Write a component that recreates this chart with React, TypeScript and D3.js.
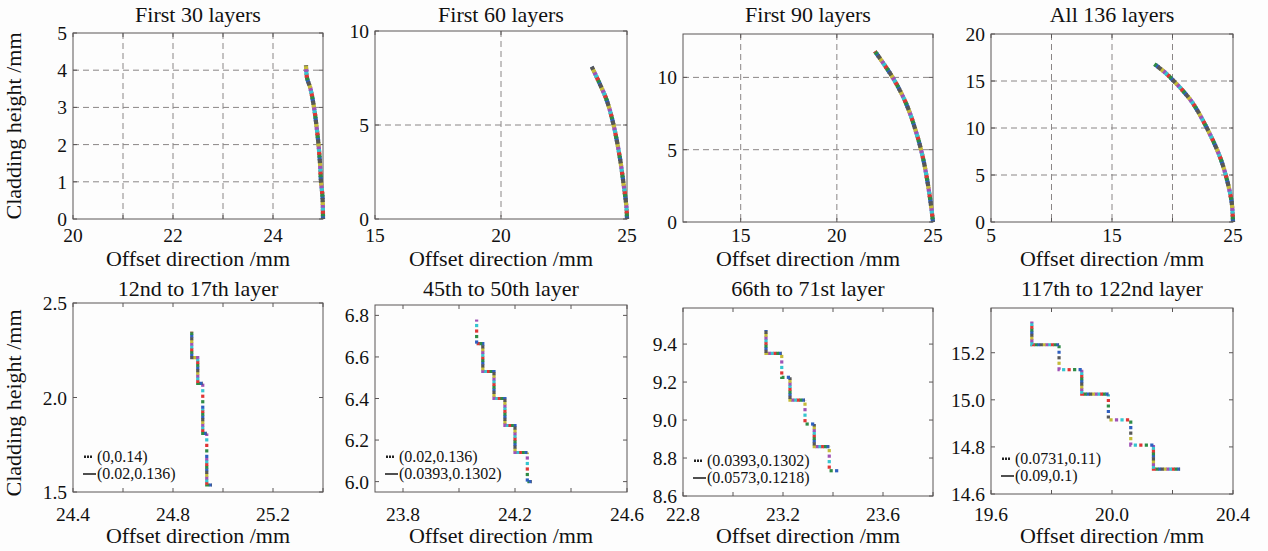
import React from "react";
import * as d3 from "d3";

// ---- colours of the point cycle (b, g, r, c, m, y, k) ----
const dotColors = ["#2f5fc0", "#2e8b45", "#e03535", "#35c5cf", "#a052b5", "#c4bb38", "#575757"];

// ---- top row: cumulative profiles (offset mm, height mm) ----
const curve30 = [[25.0, 0], [24.99, 0.6], [24.96, 1.0], [24.94, 1.5], [24.91, 2.0], [24.87, 2.5], [24.82, 3.0], [24.75, 3.5], [24.68, 3.8], [24.66, 4.13]];
const curve60 = [[25.0, 0], [24.98, 0.6], [24.88, 1.7], [24.7, 3.4], [24.45, 5.1], [24.2, 6.3], [23.9, 7.25], [23.6, 8.1]];
const curve90 = [[25.0, 0], [24.93, 0.8], [24.76, 2.4], [24.5, 4.3], [24.15, 6.1], [23.6, 8.2], [22.9, 10.0], [21.98, 11.8]];
const curve136 = [[25.0, 0], [24.9, 2.0], [24.5, 4.5], [23.9, 7.0], [22.8, 10.1], [21.7, 12.6], [20.9, 13.9], [20.1, 15.0], [19.3, 16.0], [18.5, 16.8]];

// ---- bottom row: layer staircases, "dot" = dotted series, "solid" = solid series ----
const steps12to17 = [
  { style: "solid", pts: [[24.956, 1.537], [24.935, 1.537], [24.935, 1.68]] },
  { style: "dot", pts: [[24.935, 1.68], [24.935, 1.81]] },
  { style: "solid", pts: [[24.935, 1.81], [24.919, 1.81], [24.919, 1.94]] },
  { style: "dot", pts: [[24.919, 1.94], [24.919, 2.075]] },
  { style: "solid", pts: [[24.919, 2.075], [24.899, 2.075], [24.899, 2.211], [24.875, 2.211], [24.875, 2.348]] },
];
const steps45to50 = [
  { style: "solid", pts: [[24.26, 6.0], [24.244, 6.0]] },
  { style: "dot", pts: [[24.244, 6.0], [24.244, 6.14]] },
  { style: "solid", pts: [[24.244, 6.14], [24.2, 6.14], [24.2, 6.27], [24.164, 6.27], [24.164, 6.4], [24.125, 6.4], [24.125, 6.53], [24.085, 6.53], [24.085, 6.664], [24.063, 6.664]] },
  { style: "dot", pts: [[24.063, 6.664], [24.063, 6.78]] },
];
const steps66to71 = [
  { style: "dot", pts: [[23.421, 8.733], [23.385, 8.733], [23.385, 8.86]] },
  { style: "solid", pts: [[23.385, 8.86], [23.325, 8.86], [23.325, 8.979]] },
  { style: "dot", pts: [[23.325, 8.979], [23.288, 8.979], [23.288, 9.105]] },
  { style: "solid", pts: [[23.288, 9.105], [23.228, 9.105], [23.228, 9.225]] },
  { style: "dot", pts: [[23.228, 9.225], [23.195, 9.225], [23.195, 9.351]] },
  { style: "solid", pts: [[23.195, 9.351], [23.132, 9.351], [23.132, 9.474]] },
];
const steps117to122 = [
  { style: "solid", pts: [[20.225, 14.706], [20.137, 14.706], [20.137, 14.808]] },
  { style: "dot", pts: [[20.137, 14.808], [20.062, 14.808], [20.062, 14.915], [19.988, 14.915], [19.988, 15.024]] },
  { style: "solid", pts: [[19.988, 15.024], [19.9, 15.024], [19.9, 15.128]] },
  { style: "dot", pts: [[19.9, 15.128], [19.825, 15.128], [19.825, 15.234]] },
  { style: "solid", pts: [[19.825, 15.234], [19.735, 15.234], [19.735, 15.333]] },
];

// ---- titles, legends, ticks ----
const topTitles = ["First 30 layers", "First 60 layers", "First 90 layers", "All 136 layers"];
const bottomTitles = ["12nd to 17th layer", "45th to 50th layer", "66th to 71st layer", "117th to 122nd layer"];
const legendDot = ["(0,0.14)", "(0.02,0.136)", "(0.0393,0.1302)", "(0.0731,0.11)"];
const legendSolid = ["(0.02,0.136)", "(0.0393,0.1302)", "(0.0573,0.1218)", "(0.09,0.1)"];

const topXDomains = [[20, 25], [15, 25], [12, 25], [5, 25]];
const topYDomains = [[0, 5], [0, 10], [0, 13], [0, 20]];
const topXTicks = [[20, 21, 22, 23, 24, 25], [15, 20, 25], [15, 20, 25], [5, 10, 15, 20, 25]];
const topXLabels = [[20, 22, 24], [15, 20, 25], [15, 20, 25], [5, 15, 25]];
const topYTicks = [[0, 1, 2, 3, 4, 5], [0, 5, 10], [0, 5, 10], [0, 5, 10, 15, 20]];

const botXDomains = [[24.4, 25.4], [23.7, 24.6], [22.8, 23.8], [19.6, 20.4]];
const botYDomains = [[1.5, 2.5], [5.95, 6.85], [8.6, 9.59], [14.6, 15.39]];
const botXTicks = [[24.4, 24.6, 24.8, 25.0, 25.2, 25.4], [23.8, 24.0, 24.2, 24.4, 24.6], [22.8, 23.0, 23.2, 23.4, 23.6, 23.8], [19.6, 19.8, 20.0, 20.2, 20.4]];
const botXLabels = [[24.4, 24.8, 25.2], [23.8, 24.2, 24.6], [22.8, 23.2, 23.6], [19.6, 20.0, 20.4]];
const botYTicks = [[1.5, 2.0, 2.5], [6.0, 6.2, 6.4, 6.6, 6.8], [8.6, 8.8, 9.0, 9.2, 9.4], [14.6, 14.8, 15.0, 15.2]];

// ---- layout (plot boxes) ----
const topBoxes = [
  { l: 73, r: 323, t: 33, b: 219 },
  { l: 375, r: 627, t: 31, b: 219 },
  { l: 683, r: 933, t: 34, b: 222 },
  { l: 991, r: 1233, t: 34, b: 222 },
];
const botBoxes = [
  { l: 73, r: 323, t: 303, b: 492 },
  { l: 375, r: 627, t: 305, b: 492 },
  { l: 683, r: 933, t: 308, b: 496 },
  { l: 991, r: 1233, t: 308, b: 494 },
];

const FONT = "Liberation Serif, DejaVu Serif, serif";
const AXIS = "#5a5656";
const GRID = "#8a8686";
const TITLE_SIZE = 22;
const TICK_SIZE = 19.5;

function DottedPath({ d, spacing, size }: { d: string; spacing: number; size: number }) {
  const period = spacing * dotColors.length;
  return (
    <g>
      {dotColors.map((c, i) => (
        <path
          key={i}
          d={d}
          fill="none"
          stroke={c}
          strokeWidth={size}
          strokeDasharray={`${size} ${period - size}`}
          strokeDashoffset={(period - i * spacing) % period}
        />
      ))}
    </g>
  );
}

function Frame({ box, x, y, xTicks, yTicks, xLabels, yLabels, fmt, grid, tickLabelY, axisTitleY }: any) {
  const tl = 4;
  return (
    <g>
      {grid &&
        xTicks
          .filter((v: number) => x(v) > box.l + 1 && x(v) < box.r - 1)
          .map((v: number, i: number) => (
            <line key={"gx" + i} x1={x(v)} x2={x(v)} y1={box.t} y2={box.b} stroke={GRID} strokeWidth={1} strokeDasharray="6 4" />
          ))}
      {grid &&
        yTicks
          .filter((v: number) => y(v) > box.t + 1 && y(v) < box.b - 1)
          .map((v: number, i: number) => (
            <line key={"gy" + i} x1={box.l} x2={box.r} y1={y(v)} y2={y(v)} stroke={GRID} strokeWidth={1} strokeDasharray="6 4" />
          ))}
      <rect x={box.l} y={box.t} width={box.r - box.l} height={box.b - box.t} fill="none" stroke={AXIS} strokeWidth={1} />
      {xTicks.map((v: number, i: number) => (
        <g key={"tx" + i}>
          <line x1={x(v)} x2={x(v)} y1={box.b} y2={box.b - tl} stroke={AXIS} />
          <line x1={x(v)} x2={x(v)} y1={box.t} y2={box.t + tl} stroke={AXIS} />
        </g>
      ))}
      {yTicks.map((v: number, i: number) => (
        <g key={"ty" + i}>
          <line x1={box.l} x2={box.l + tl} y1={y(v)} y2={y(v)} stroke={AXIS} />
          <line x1={box.r} x2={box.r - tl} y1={y(v)} y2={y(v)} stroke={AXIS} />
        </g>
      ))}
      {xLabels.map((v: number, i: number) => (
        <text key={"lx" + i} x={x(v)} y={tickLabelY} textAnchor="middle" fontFamily={FONT} fontSize={TICK_SIZE} fill="#111">
          {fmt(v)}
        </text>
      ))}
      {yLabels.map((v: number, i: number) => (
        <text key={"ly" + i} x={box.l - 6} y={y(v) + 7} textAnchor="end" fontFamily={FONT} fontSize={TICK_SIZE} fill="#111">
          {fmt(v)}
        </text>
      ))}
      <text x={(box.l + box.r) / 2} y={axisTitleY} textAnchor="middle" fontFamily={FONT} fontSize={TITLE_SIZE} fill="#111">
        Offset direction /mm
      </text>
    </g>
  );
}

export default function App() {
  const curves = [curve30, curve60, curve90, curve136];
  const steps = [steps12to17, steps45to50, steps66to71, steps117to122];
  const intFmt = d3.format("d");
  const decFmt = d3.format(".1f");

  return (
    <svg width={1268} height={551} style={{ position: "absolute", left: 0, top: 0 }}>
      <rect x={0} y={0} width={1268} height={551} fill="#fdfdfd" />
      {topBoxes.map((box, k) => {
        const x = d3.scaleLinear().domain(topXDomains[k]).range([box.l, box.r]);
        const y = d3.scaleLinear().domain(topYDomains[k]).range([box.b, box.t]);
        const line = d3
          .line<number[]>()
          .x((p) => x(p[0]))
          .y((p) => y(p[1]))
          .curve(d3.curveCatmullRom);
        return (
          <g key={"top" + k}>
            <Frame
              box={box}
              x={x}
              y={y}
              xTicks={topXTicks[k]}
              yTicks={topYTicks[k]}
              xLabels={topXLabels[k]}
              yLabels={topYTicks[k]}
              fmt={intFmt}
              grid={true}
              tickLabelY={242}
              axisTitleY={266}
            />
            <DottedPath d={line(curves[k] as any) || ""} spacing={2.8} size={4.2} />
            <text x={(box.l + box.r) / 2} y={22} textAnchor="middle" fontFamily={FONT} fontSize={TITLE_SIZE} fill="#111">
              {topTitles[k]}
            </text>
          </g>
        );
      })}
      {botBoxes.map((box, k) => {
        const x = d3.scaleLinear().domain(botXDomains[k]).range([box.l, box.r]);
        const y = d3.scaleLinear().domain(botYDomains[k]).range([box.b, box.t]);
        const line = d3
          .line<number[]>()
          .x((p) => x(p[0]))
          .y((p) => y(p[1]));
        const ly1 = box.b - 35;
        const ly2 = box.b - 18;
        return (
          <g key={"bot" + k}>
            <Frame
              box={box}
              x={x}
              y={y}
              xTicks={botXTicks[k]}
              yTicks={botYTicks[k]}
              xLabels={botXLabels[k]}
              yLabels={botYTicks[k]}
              fmt={decFmt}
              grid={false}
              tickLabelY={521}
              axisTitleY={543}
            />
            {steps[k].map((s, j) => (
              <DottedPath key={j} d={line(s.pts as any) || ""} spacing={s.style === "dot" ? 5.5 : 2.7} size={3.2} />
            ))}
            <text x={(box.l + box.r) / 2} y={296} textAnchor="middle" fontFamily={FONT} fontSize={TITLE_SIZE} fill="#111">
              {bottomTitles[k]}
            </text>
            <g>
              {[0, 1, 2].map((i) => (
                <rect key={i} x={box.l + 11 + i * 3} y={ly1 - 1.5} width={2} height={2.5} fill="#222" />
              ))}
              <text x={box.l + 24} y={ly1 + 5} fontFamily={FONT} fontSize={16} fill="#111">
                {legendDot[k]}
              </text>
              <line x1={box.l + 10} x2={box.l + 23} y1={ly2} y2={ly2} stroke="#222" strokeWidth={1.6} />
              <text x={box.l + 24} y={ly2 + 5} fontFamily={FONT} fontSize={16} fill="#111">
                {legendSolid[k]}
              </text>
            </g>
          </g>
        );
      })}
      <text transform="translate(21,126) rotate(-90)" textAnchor="middle" fontFamily={FONT} fontSize={TITLE_SIZE} fill="#111">
        Cladding height /mm
      </text>
      <text transform="translate(21,403) rotate(-90)" textAnchor="middle" fontFamily={FONT} fontSize={TITLE_SIZE} fill="#111">
        Cladding height /mm
      </text>
    </svg>
  );
}
